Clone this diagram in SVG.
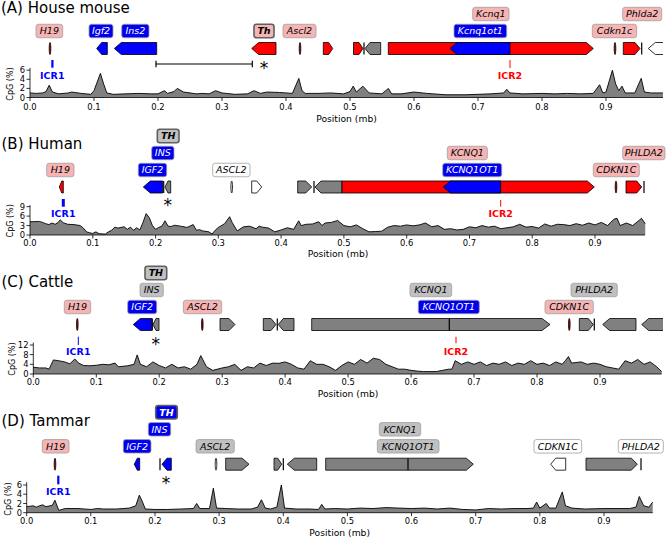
<svg xmlns="http://www.w3.org/2000/svg" width="667" height="537" viewBox="0 0 667 537">
<style>
text{font-family:'DejaVu Sans','Liberation Sans',sans-serif;fill:#000}
.ttl{font-size:15px}
.tk{font-size:8.4px}
.tx{text-anchor:middle}
.ty{text-anchor:end}
.xl{font-size:9.2px;text-anchor:middle}
.yl{font-size:8px;text-anchor:middle}
.cpg{fill:#808080;stroke:none}
.cpgl{fill:none;stroke:#000;stroke-width:0.9;vector-effect:non-scaling-stroke;stroke-linejoin:round}
.ax{stroke:#000;stroke-width:0.8;fill:none}
.lb rect{stroke:#a0a0a0;stroke-width:0.8}
.lb text{font-style:italic;font-size:9.5px;text-anchor:middle}
.lb.bl text{fill:#fff}
.pk rect{fill:#f7b4b4}
.bl rect{fill:#0000ee}
.gy rect{fill:#c0c0c0}
.wh rect{fill:#fff}
.bd rect{stroke:#606060;stroke-width:1.6}
.bd text{font-weight:bold}
.gene polygon,.gene ellipse{stroke:#000;stroke-width:0.8}
.r{fill:#ff0000}.b{fill:#0000ff}.g{fill:#808080}.w{fill:#fff}
.mk{fill:#b00000}
.sep{stroke:#000;stroke-width:1.2}
.icr{font-size:9.5px;font-weight:bold;text-anchor:middle}
.ast{font-size:17px;text-anchor:middle}
</style>
<defs>
<clipPath id="clipA"><rect x="0" y="0" width="663" height="537"/></clipPath>
</defs>

<!-- ================= Panel A ================= -->
<g id="panelA">
<text class="ttl" x="1" y="13">(A) House mouse</text>
<g id="cpgA" transform="translate(30,97.5) scale(640,-4.55)">
<polygon class="cpg" points="0,0 0,1.0 0.01,0.9 0.02,1.0 0.025,1.3 0.03,2.7 0.035,1.2 0.045,0.8 0.06,1.0 0.065,1.2 0.08,0.9 0.095,0.7 0.1,1.5 0.11,5.3 0.115,3.0 0.12,1.0 0.13,0.7 0.15,0.8 0.17,0.9 0.19,0.8 0.2,0.8 0.21,1.5 0.215,0.9 0.225,1.3 0.23,2.0 0.24,1.2 0.26,0.8 0.27,0.9 0.28,0.8 0.29,1.5 0.3,1.0 0.32,0.7 0.34,0.8 0.35,1.5 0.36,0.9 0.37,1.2 0.39,1.1 0.41,0.9 0.42,4.2 0.425,1.5 0.43,0.9 0.45,0.9 0.47,1.0 0.49,0.8 0.5,1.3 0.505,2.5 0.51,1.2 0.52,2.5 0.53,1.0 0.55,0.8 0.56,2.0 0.565,0.8 0.58,0.8 0.6,1.2 0.62,0.9 0.65,0.6 0.68,0.6 0.7,0.7 0.72,0.8 0.74,1.0 0.745,1.8 0.75,1.0 0.77,0.8 0.8,0.9 0.82,0.8 0.84,0.9 0.86,0.8 0.88,0.9 0.89,2.8 0.895,1.0 0.9,1.2 0.91,6.0 0.915,3.0 0.92,1.5 0.925,2.5 0.93,1.0 0.945,1.0 0.955,4.2 0.96,1.2 0.97,1.0 0.989,1.0 0.989,0"/>
<polyline class="cpgl" points="0,1.0 0.01,0.9 0.02,1.0 0.025,1.3 0.03,2.7 0.035,1.2 0.045,0.8 0.06,1.0 0.065,1.2 0.08,0.9 0.095,0.7 0.1,1.5 0.11,5.3 0.115,3.0 0.12,1.0 0.13,0.7 0.15,0.8 0.17,0.9 0.19,0.8 0.2,0.8 0.21,1.5 0.215,0.9 0.225,1.3 0.23,2.0 0.24,1.2 0.26,0.8 0.27,0.9 0.28,0.8 0.29,1.5 0.3,1.0 0.32,0.7 0.34,0.8 0.35,1.5 0.36,0.9 0.37,1.2 0.39,1.1 0.41,0.9 0.42,4.2 0.425,1.5 0.43,0.9 0.45,0.9 0.47,1.0 0.49,0.8 0.5,1.3 0.505,2.5 0.51,1.2 0.52,2.5 0.53,1.0 0.55,0.8 0.56,2.0 0.565,0.8 0.58,0.8 0.6,1.2 0.62,0.9 0.65,0.6 0.68,0.6 0.7,0.7 0.72,0.8 0.74,1.0 0.745,1.8 0.75,1.0 0.77,0.8 0.8,0.9 0.82,0.8 0.84,0.9 0.86,0.8 0.88,0.9 0.89,2.8 0.895,1.0 0.9,1.2 0.91,6.0 0.915,3.0 0.92,1.5 0.925,2.5 0.93,1.0 0.945,1.0 0.955,4.2 0.96,1.2 0.97,1.0 0.989,1.0"/>
</g>
<path class="ax" d="M30,67.9V97.5H663 M30,97.5v3.5 M94,97.5v3.5 M158,97.5v3.5 M222,97.5v3.5 M286,97.5v3.5 M350,97.5v3.5 M414,97.5v3.5 M478,97.5v3.5 M542,97.5v3.5 M606,97.5v3.5 M26.5,97.5H30 M26.5,88.4H30 M26.5,79.3H30 M26.5,70.2H30"/>
<g class="tk tx">
<text x="30" y="110.3">0.0</text><text x="94" y="110.3">0.1</text><text x="158" y="110.3">0.2</text><text x="222" y="110.3">0.3</text><text x="286" y="110.3">0.4</text><text x="350" y="110.3">0.5</text><text x="414" y="110.3">0.6</text><text x="478" y="110.3">0.7</text><text x="542" y="110.3">0.8</text><text x="606" y="110.3">0.9</text>
</g>
<g class="tk ty">
<text x="25" y="100.5">0</text><text x="25" y="91.4">2</text><text x="25" y="82.3">4</text><text x="25" y="73.2">6</text>
</g>
<text class="xl" x="346.5" y="121.5">Position (mb)</text>
<text class="yl" transform="translate(12.5,84) rotate(-90)">CpG (%)</text>

<g id="genesA" class="gene" clip-path="url(#clipA)">
<ellipse class="mk" cx="50" cy="48.5" rx="0.8" ry="6"/>
<polygon class="b" points="96.7,48.5 101.7,42.5 107.3,42.5 107.3,54.5 101.7,54.5"/>
<polygon class="b" points="114.3,48.5 121.3,42.5 156.7,42.5 156.7,54.5 121.3,54.5"/>
<polygon class="r" points="251.7,48.5 258.7,42.5 276,42.5 276,54.5 258.7,54.5"/>
<ellipse class="mk" cx="300" cy="48.5" rx="0.8" ry="6"/>
<polygon class="r" points="323.3,42.5 328.7,42.5 332.7,48.5 328.7,54.5 323.3,54.5"/>
<polygon class="r" points="353.5,42.5 359,42.5 363,48.5 359,54.5 353.5,54.5"/>
<line class="sep" x1="364" y1="42.5" x2="364" y2="54.5"/>
<polygon class="g" points="365,48.5 370,42.5 380.7,42.5 380.7,54.5 370,54.5"/>
<polygon class="r" points="388.3,42.5 586.3,42.5 593.3,48.5 586.3,54.5 388.3,54.5"/>
<polygon class="b" points="450,48.5 457,42.5 510,42.5 510,54.5 457,54.5"/>
<ellipse class="mk" cx="615" cy="48.5" rx="0.8" ry="6"/>
<polygon class="r" points="623.3,42.5 635,42.5 640,48.5 635,54.5 623.3,54.5"/>
<line class="sep" x1="641.7" y1="42.5" x2="641.7" y2="54.5"/>
<polygon class="w" points="648.3,48.5 655.3,42.5 670,42.5 670,54.5 655.3,54.5"/>
</g>

<g id="lblA-H19" class="lb pk"><rect x="36" y="24.25" width="26.7" height="13.5" rx="2.5"/><text x="49.35" y="34.4">H19</text></g>
<g id="lblA-Igf2" class="lb bl"><rect x="89" y="24.25" width="24" height="13.5" rx="2.5"/><text x="101" y="34.4">Igf2</text></g>
<g id="lblA-Ins2" class="lb bl"><rect x="121.7" y="24.25" width="27.3" height="13.5" rx="2.5"/><text x="135.35" y="34.4">Ins2</text></g>
<g id="lblA-Th" class="lb pk bd"><rect x="254" y="24.25" width="20" height="13.5" rx="2.5"/><text x="264" y="34.4">Th</text></g>
<g id="lblA-Ascl2" class="lb pk"><rect x="283" y="24.25" width="33" height="13.5" rx="2.5"/><text x="299.5" y="34.4">Ascl2</text></g>
<g id="lblA-Kcnq1ot1" class="lb bl"><rect x="454" y="24.25" width="52.7" height="13.5" rx="2.5"/><text x="480.35" y="34.4">Kcnq1ot1</text></g>
<g id="lblA-Cdkn1c" class="lb pk"><rect x="592.3" y="24.25" width="44.4" height="13.5" rx="2.5"/><text x="614.5" y="34.4">Cdkn1c</text></g>
<g id="lblA-Kcnq1" class="lb pk"><rect x="472.7" y="7.25" width="36.3" height="13.5" rx="2.5"/><text x="490.85" y="17.4">Kcnq1</text></g>
<g id="lblA-Phlda2" class="lb pk"><rect x="622.7" y="7.25" width="39" height="13.5" rx="2.5"/><text x="642.2" y="17.4">Phlda2</text></g>
</g>

<!-- ================= Panel B ================= -->
<g id="panelB">
<text class="ttl" x="1.5" y="148.5">(B) Human</text>
<g id="cpgB" transform="translate(30,235) scale(627.8,-3.15)">
<polygon class="cpg" points="0,0 0,4.2 0.015,4.3 0.02,4.0 0.025,3.6 0.03,3.3 0.035,3.8 0.04,3.4 0.045,4.0 0.048,4.8 0.053,3.9 0.06,3.4 0.07,3.3 0.08,3.0 0.085,2.2 0.09,1.0 0.095,0.7 0.1,0.5 0.105,1.0 0.11,0.4 0.12,0.3 0.125,1.0 0.13,1.5 0.135,2.5 0.14,2.2 0.15,2.6 0.155,1.8 0.16,2.5 0.165,1.5 0.17,2.3 0.175,1.6 0.18,4.0 0.185,6.8 0.19,5.5 0.195,3.0 0.2,1.8 0.205,2.4 0.21,2.8 0.215,4.5 0.22,2.8 0.225,2.7 0.23,3.1 0.24,2.8 0.25,2.4 0.26,3.3 0.265,1.5 0.27,1.7 0.275,1.3 0.285,1.0 0.29,0.3 0.295,1.5 0.3,2.4 0.31,3.6 0.318,5.8 0.322,4.0 0.33,1.3 0.34,2.6 0.35,2.8 0.36,2.0 0.365,2.8 0.37,2.5 0.38,2.2 0.39,1.0 0.4,1.6 0.41,2.3 0.42,1.8 0.428,4.5 0.432,3.0 0.44,3.4 0.45,3.5 0.46,4.2 0.465,3.0 0.47,3.8 0.48,4.0 0.49,4.6 0.5,3.0 0.51,2.6 0.52,3.2 0.53,2.0 0.54,1.0 0.55,1.1 0.56,1.2 0.57,2.5 0.58,3.0 0.59,2.8 0.6,3.2 0.61,2.9 0.62,3.2 0.63,3.8 0.64,2.6 0.65,3.0 0.66,1.8 0.67,2.0 0.68,1.6 0.69,1.8 0.7,2.6 0.71,2.3 0.72,3.0 0.73,2.5 0.74,2.8 0.75,2.0 0.76,2.3 0.77,2.6 0.78,3.4 0.79,2.5 0.8,2.7 0.81,2.2 0.82,3.5 0.83,2.8 0.84,3.4 0.85,3.3 0.86,3.0 0.87,3.6 0.88,3.1 0.89,3.8 0.9,3.2 0.91,4.0 0.92,3.0 0.93,5.0 0.935,5.3 0.94,3.0 0.95,3.8 0.96,3.0 0.97,4.6 0.974,5.3 0.98,3.6 0.98,0"/>
<polyline class="cpgl" points="0,4.2 0.015,4.3 0.02,4.0 0.025,3.6 0.03,3.3 0.035,3.8 0.04,3.4 0.045,4.0 0.048,4.8 0.053,3.9 0.06,3.4 0.07,3.3 0.08,3.0 0.085,2.2 0.09,1.0 0.095,0.7 0.1,0.5 0.105,1.0 0.11,0.4 0.12,0.3 0.125,1.0 0.13,1.5 0.135,2.5 0.14,2.2 0.15,2.6 0.155,1.8 0.16,2.5 0.165,1.5 0.17,2.3 0.175,1.6 0.18,4.0 0.185,6.8 0.19,5.5 0.195,3.0 0.2,1.8 0.205,2.4 0.21,2.8 0.215,4.5 0.22,2.8 0.225,2.7 0.23,3.1 0.24,2.8 0.25,2.4 0.26,3.3 0.265,1.5 0.27,1.7 0.275,1.3 0.285,1.0 0.29,0.3 0.295,1.5 0.3,2.4 0.31,3.6 0.318,5.8 0.322,4.0 0.33,1.3 0.34,2.6 0.35,2.8 0.36,2.0 0.365,2.8 0.37,2.5 0.38,2.2 0.39,1.0 0.4,1.6 0.41,2.3 0.42,1.8 0.428,4.5 0.432,3.0 0.44,3.4 0.45,3.5 0.46,4.2 0.465,3.0 0.47,3.8 0.48,4.0 0.49,4.6 0.5,3.0 0.51,2.6 0.52,3.2 0.53,2.0 0.54,1.0 0.55,1.1 0.56,1.2 0.57,2.5 0.58,3.0 0.59,2.8 0.6,3.2 0.61,2.9 0.62,3.2 0.63,3.8 0.64,2.6 0.65,3.0 0.66,1.8 0.67,2.0 0.68,1.6 0.69,1.8 0.7,2.6 0.71,2.3 0.72,3.0 0.73,2.5 0.74,2.8 0.75,2.0 0.76,2.3 0.77,2.6 0.78,3.4 0.79,2.5 0.8,2.7 0.81,2.2 0.82,3.5 0.83,2.8 0.84,3.4 0.85,3.3 0.86,3.0 0.87,3.6 0.88,3.1 0.89,3.8 0.9,3.2 0.91,4.0 0.92,3.0 0.93,5.0 0.935,5.3 0.94,3.0 0.95,3.8 0.96,3.0 0.97,4.6 0.974,5.3 0.98,3.6"/>
</g>
<path class="ax" d="M30,205.1V235H645 M30,235v3.5 M92.8,235v3.5 M155.6,235v3.5 M218.3,235v3.5 M281.1,235v3.5 M343.9,235v3.5 M406.7,235v3.5 M469.5,235v3.5 M532.2,235v3.5 M595,235v3.5 M26.5,235H30 M26.5,225.55H30 M26.5,216.1H30 M26.5,206.65H30"/>
<g class="tk tx">
<text x="30" y="246">0.0</text><text x="92.8" y="246">0.1</text><text x="155.6" y="246">0.2</text><text x="218.3" y="246">0.3</text><text x="281.1" y="246">0.4</text><text x="343.9" y="246">0.5</text><text x="406.7" y="246">0.6</text><text x="469.5" y="246">0.7</text><text x="532.2" y="246">0.8</text><text x="595" y="246">0.9</text>
</g>
<g class="tk ty">
<text x="25" y="238">0</text><text x="25" y="228.6">3</text><text x="25" y="219.1">6</text><text x="25" y="209.7">9</text>
</g>
<text class="xl" x="338" y="256.5">Position (mb)</text>
<text class="yl" transform="translate(12.5,220.8) rotate(-90)">CpG (%)</text>

<g id="genesB" class="gene">
<polygon class="r" points="59.3,187 61.8,181 63.3,181 63.3,193 61.8,193"/>
<polygon class="b" points="143.3,187 150.3,181 162.7,181 162.7,193 150.3,193"/>
<line class="sep" x1="163.7" y1="181" x2="163.7" y2="193"/>
<polygon class="g" points="165,187 168,181 170.7,181 170.7,193 168,193"/>
<ellipse class="w" cx="231.7" cy="187" rx="0.8" ry="6"/>
<polygon class="w" points="251.7,181 256.7,181 261.7,187 256.7,193 251.7,193"/>
<polygon class="g" points="297.7,181 305.7,181 311.7,187 305.7,193 297.7,193"/>
<line class="sep" x1="314" y1="181" x2="314" y2="193"/>
<polygon class="g" points="315,187 321,181 342,181 342,193 321,193"/>
<polygon class="r" points="342,181 587.3,181 594.3,187 587.3,193 342,193"/>
<polygon class="b" points="443.3,187 450.3,181 500.7,181 500.7,193 450.3,193"/>
<ellipse class="mk" cx="616" cy="187" rx="0.8" ry="6"/>
<polygon class="r" points="626,181 636.7,181 641.7,187 636.7,193 626,193"/>
<line class="sep" x1="644" y1="181" x2="644" y2="193"/>
</g>

<g id="lblB-TH" class="lb gy bd"><rect x="157.3" y="129.25" width="21.7" height="13.5" rx="2.5"/><text x="168.15" y="139.4">TH</text></g>
<g id="lblB-INS" class="lb bl"><rect x="151.7" y="146.25" width="22.3" height="13.5" rx="2.5"/><text x="162.85" y="156.4">INS</text></g>
<g id="lblB-IGF2" class="lb bl"><rect x="138.3" y="163.25" width="28.4" height="13.5" rx="2.5"/><text x="152.5" y="173.4">IGF2</text></g>
<g id="lblB-H19" class="lb pk"><rect x="46.7" y="163.25" width="27.3" height="13.5" rx="2.5"/><text x="60.35" y="173.4">H19</text></g>
<g id="lblB-ASCL2" class="lb wh"><rect x="212.7" y="163.25" width="37.3" height="13.5" rx="2.5"/><text x="231.35" y="173.4">ASCL2</text></g>
<g id="lblB-KCNQ1" class="lb pk"><rect x="447.3" y="146.25" width="40" height="13.5" rx="2.5"/><text x="467.3" y="156.4">KCNQ1</text></g>
<g id="lblB-KCNQ1OT1" class="lb bl"><rect x="442.7" y="163.25" width="59" height="13.5" rx="2.5"/><text x="472.2" y="173.4">KCNQ1OT1</text></g>
<g id="lblB-CDKN1C" class="lb pk"><rect x="593.3" y="163.25" width="46" height="13.5" rx="2.5"/><text x="616.3" y="173.4">CDKN1C</text></g>
<g id="lblB-PHLDA2" class="lb pk"><rect x="622.7" y="146.25" width="42.3" height="13.5" rx="2.5"/><text x="643.85" y="156.4">PHLDA2</text></g>
</g>

<!-- ================= Panel C ================= -->
<g id="panelC">
<text class="ttl" x="1.5" y="287">(C) Cattle</text>
<g id="cpgC" transform="translate(33.3,374) scale(629.6,-2.42)">
<polygon class="cpg" points="0,0 0,2.8 0.01,2.5 0.02,2.5 0.025,2.0 0.032,5.8 0.04,5.5 0.05,5.0 0.058,4.2 0.066,6.2 0.072,4.5 0.08,3.5 0.09,3.4 0.1,3.6 0.11,4.0 0.12,3.8 0.13,4.5 0.135,3.0 0.15,3.4 0.16,4.0 0.165,7.9 0.17,4.0 0.18,3.0 0.19,5.0 0.2,3.5 0.21,2.5 0.22,4.0 0.23,2.5 0.24,3.0 0.25,2.0 0.26,4.0 0.266,7.6 0.275,3.0 0.285,1.5 0.3,2.5 0.31,3.0 0.32,4.0 0.33,1.5 0.34,3.0 0.35,2.5 0.36,4.5 0.37,3.5 0.38,4.5 0.39,4.4 0.4,5.0 0.41,4.0 0.42,2.5 0.43,2.0 0.44,5.5 0.45,4.0 0.46,4.0 0.47,3.0 0.48,1.5 0.49,3.5 0.5,5.0 0.51,4.0 0.52,6.0 0.53,4.5 0.54,6.5 0.55,6.0 0.56,4.0 0.57,3.0 0.58,2.0 0.59,2.0 0.6,1.5 0.61,1.2 0.62,1.0 0.63,1.0 0.64,1.0 0.65,1.5 0.66,2.0 0.665,2.0 0.67,5.5 0.68,4.0 0.69,5.0 0.7,4.0 0.71,5.0 0.72,3.5 0.73,4.5 0.74,4.0 0.75,5.0 0.76,3.5 0.77,4.5 0.78,4.0 0.79,5.5 0.8,4.0 0.81,4.5 0.82,3.5 0.83,5.0 0.84,4.0 0.845,5.5 0.85,7.2 0.855,4.5 0.87,5.0 0.88,4.0 0.89,4.5 0.9,4.0 0.91,3.0 0.92,2.5 0.93,2.0 0.94,5.5 0.95,4.5 0.96,6.0 0.97,4.0 0.98,5.0 0.99,3.0 0.998,1.0 0.998,0"/>
<polyline class="cpgl" points="0,2.8 0.01,2.5 0.02,2.5 0.025,2.0 0.032,5.8 0.04,5.5 0.05,5.0 0.058,4.2 0.066,6.2 0.072,4.5 0.08,3.5 0.09,3.4 0.1,3.6 0.11,4.0 0.12,3.8 0.13,4.5 0.135,3.0 0.15,3.4 0.16,4.0 0.165,7.9 0.17,4.0 0.18,3.0 0.19,5.0 0.2,3.5 0.21,2.5 0.22,4.0 0.23,2.5 0.24,3.0 0.25,2.0 0.26,4.0 0.266,7.6 0.275,3.0 0.285,1.5 0.3,2.5 0.31,3.0 0.32,4.0 0.33,1.5 0.34,3.0 0.35,2.5 0.36,4.5 0.37,3.5 0.38,4.5 0.39,4.4 0.4,5.0 0.41,4.0 0.42,2.5 0.43,2.0 0.44,5.5 0.45,4.0 0.46,4.0 0.47,3.0 0.48,1.5 0.49,3.5 0.5,5.0 0.51,4.0 0.52,6.0 0.53,4.5 0.54,6.5 0.55,6.0 0.56,4.0 0.57,3.0 0.58,2.0 0.59,2.0 0.6,1.5 0.61,1.2 0.62,1.0 0.63,1.0 0.64,1.0 0.65,1.5 0.66,2.0 0.665,2.0 0.67,5.5 0.68,4.0 0.69,5.0 0.7,4.0 0.71,5.0 0.72,3.5 0.73,4.5 0.74,4.0 0.75,5.0 0.76,3.5 0.77,4.5 0.78,4.0 0.79,5.5 0.8,4.0 0.81,4.5 0.82,3.5 0.83,5.0 0.84,4.0 0.845,5.5 0.85,7.2 0.855,4.5 0.87,5.0 0.88,4.0 0.89,4.5 0.9,4.0 0.91,3.0 0.92,2.5 0.93,2.0 0.94,5.5 0.95,4.5 0.96,6.0 0.97,4.0 0.98,5.0 0.99,3.0 0.998,1.0"/>
</g>
<path class="ax" d="M33.3,342.5V374H661.7 M33.3,374v3.5 M96.3,374v3.5 M159.2,374v3.5 M222.2,374v3.5 M285.1,374v3.5 M348.1,374v3.5 M411.1,374v3.5 M474,374v3.5 M537,374v3.5 M600,374v3.5 M29.8,374H33.3 M29.8,364.3H33.3 M29.8,354.6H33.3 M29.8,345H33.3"/>
<g class="tk tx">
<text x="33.3" y="385.3">0.0</text><text x="96.3" y="385.3">0.1</text><text x="159.2" y="385.3">0.2</text><text x="222.2" y="385.3">0.3</text><text x="285.1" y="385.3">0.4</text><text x="348.1" y="385.3">0.5</text><text x="411.1" y="385.3">0.6</text><text x="474" y="385.3">0.7</text><text x="537" y="385.3">0.8</text><text x="600" y="385.3">0.9</text>
</g>
<g class="tk ty">
<text x="28.5" y="377">0</text><text x="28.5" y="367.3">4</text><text x="28.5" y="357.6">8</text><text x="28.5" y="348">12</text>
</g>
<text class="xl" x="348" y="396.8">Position (mb)</text>
<text class="yl" transform="translate(15,359) rotate(-90)">CpG (%)</text>

<g id="genesC" class="gene" clip-path="url(#clipA)">
<ellipse class="mk" cx="77.3" cy="324.5" rx="0.8" ry="6"/>
<polygon class="b" points="133.3,324.5 140.3,318.5 151.7,318.5 151.7,330.5 140.3,330.5"/>
<line class="sep" x1="152.3" y1="318.5" x2="152.3" y2="330.5"/>
<polygon class="g" points="153,324.5 156,318.5 159,318.5 159,330.5 156,330.5"/>
<ellipse class="mk" cx="202.3" cy="324.5" rx="0.8" ry="6"/>
<polygon class="g" points="220,318.5 229,318.5 235,324.5 229,330.5 220,330.5"/>
<polygon class="g" points="263.3,318.5 271,318.5 276,324.5 271,330.5 263.3,330.5"/>
<line class="sep" x1="277.3" y1="318.5" x2="277.3" y2="330.5"/>
<polygon class="g" points="278.3,324.5 283.3,318.5 294,318.5 294,330.5 283.3,330.5"/>
<polygon class="g" points="311.7,318.5 542,318.5 550,324.5 542,330.5 311.7,330.5"/>
<line class="sep" x1="449.3" y1="318.5" x2="449.3" y2="330.5"/>
<ellipse class="mk" cx="569.3" cy="324.5" rx="0.8" ry="6"/>
<polygon class="g" points="579.3,318.5 588.3,318.5 593.3,324.5 588.3,330.5 579.3,330.5"/>
<line class="sep" x1="594.3" y1="318.5" x2="594.3" y2="330.5"/>
<polygon class="g" points="602.7,324.5 609.7,318.5 636,318.5 636,330.5 609.7,330.5"/>
<polygon class="g" points="641.7,324.5 648.7,318.5 670,318.5 670,330.5 648.7,330.5"/>
</g>

<g id="lblC-TH" class="lb gy bd"><rect x="145" y="266.25" width="21.7" height="13.5" rx="2.5"/><text x="155.85" y="276.4">TH</text></g>
<g id="lblC-INS" class="lb gy"><rect x="140" y="283.25" width="23.3" height="13.5" rx="2.5"/><text x="151.65" y="293.4">INS</text></g>
<g id="lblC-IGF2" class="lb bl"><rect x="127.7" y="300.25" width="29" height="13.5" rx="2.5"/><text x="142.2" y="310.4">IGF2</text></g>
<g id="lblC-H19" class="lb pk"><rect x="64.3" y="300.25" width="26.4" height="13.5" rx="2.5"/><text x="77.5" y="310.4">H19</text></g>
<g id="lblC-ASCL2" class="lb pk"><rect x="183.3" y="300.25" width="38.4" height="13.5" rx="2.5"/><text x="202.5" y="310.4">ASCL2</text></g>
<g id="lblC-KCNQ1" class="lb gy"><rect x="410" y="283.25" width="41.7" height="13.5" rx="2.5"/><text x="430.85" y="293.4">KCNQ1</text></g>
<g id="lblC-KCNQ1OT1" class="lb bl"><rect x="418.3" y="300.25" width="61" height="13.5" rx="2.5"/><text x="448.8" y="310.4">KCNQ1OT1</text></g>
<g id="lblC-CDKN1C" class="lb pk"><rect x="545" y="300.25" width="48.3" height="13.5" rx="2.5"/><text x="569.15" y="310.4">CDKN1C</text></g>
<g id="lblC-PHLDA2" class="lb gy"><rect x="571" y="283.25" width="46.3" height="13.5" rx="2.5"/><text x="594.15" y="293.4">PHLDA2</text></g>
</g>

<!-- ================= Panel D ================= -->
<g id="panelD">
<text class="ttl" x="1.5" y="425.5">(D) Tammar</text>
<g id="cpgD" transform="translate(26.7,512.7) scale(641.4,-4.62)">
<polygon class="cpg" points="0,0 0,1.3 0.01,1.5 0.015,1.2 0.02,1.5 0.025,1.7 0.03,1.3 0.04,1.6 0.044,2.7 0.05,0.5 0.06,0.9 0.08,0.9 0.1,0.7 0.11,0.9 0.12,0.8 0.14,0.8 0.16,1.0 0.17,1.5 0.1756,3.8 0.18,2.5 0.185,0.8 0.2,0.7 0.22,0.7 0.24,0.8 0.26,0.9 0.265,2.0 0.27,0.9 0.285,0.9 0.291,5.3 0.296,1.0 0.31,0.9 0.33,0.8 0.35,0.8 0.36,1.2 0.366,2.8 0.372,1.0 0.38,0.8 0.39,1.2 0.397,6.0 0.402,1.0 0.42,0.8 0.44,0.8 0.455,0.7 0.46,1.8 0.465,0.8 0.48,0.9 0.5,0.8 0.52,1.0 0.54,0.9 0.56,1.1 0.58,1.0 0.6,0.9 0.62,1.0 0.64,0.8 0.66,1.0 0.68,0.7 0.7,0.6 0.72,0.9 0.74,0.8 0.76,0.9 0.78,0.9 0.79,1.0 0.795,2.3 0.8,1.0 0.81,2.0 0.815,1.0 0.825,1.0 0.835,4.5 0.84,1.5 0.85,1.0 0.87,0.8 0.9,0.9 0.94,0.9 0.95,1.2 0.955,3.5 0.962,1.5 0.97,1.2 0.976,2.3 0.976,0"/>
<polyline class="cpgl" points="0,1.3 0.01,1.5 0.015,1.2 0.02,1.5 0.025,1.7 0.03,1.3 0.04,1.6 0.044,2.7 0.05,0.5 0.06,0.9 0.08,0.9 0.1,0.7 0.11,0.9 0.12,0.8 0.14,0.8 0.16,1.0 0.17,1.5 0.1756,3.8 0.18,2.5 0.185,0.8 0.2,0.7 0.22,0.7 0.24,0.8 0.26,0.9 0.265,2.0 0.27,0.9 0.285,0.9 0.291,5.3 0.296,1.0 0.31,0.9 0.33,0.8 0.35,0.8 0.36,1.2 0.366,2.8 0.372,1.0 0.38,0.8 0.39,1.2 0.397,6.0 0.402,1.0 0.42,0.8 0.44,0.8 0.455,0.7 0.46,1.8 0.465,0.8 0.48,0.9 0.5,0.8 0.52,1.0 0.54,0.9 0.56,1.1 0.58,1.0 0.6,0.9 0.62,1.0 0.64,0.8 0.66,1.0 0.68,0.7 0.7,0.6 0.72,0.9 0.74,0.8 0.76,0.9 0.78,0.9 0.79,1.0 0.795,2.3 0.8,1.0 0.81,2.0 0.815,1.0 0.825,1.0 0.835,4.5 0.84,1.5 0.85,1.0 0.87,0.8 0.9,0.9 0.94,0.9 0.95,1.2 0.955,3.5 0.962,1.5 0.97,1.2 0.976,2.3"/>
</g>
<path class="ax" d="M26.7,482.2V512.7H652.7 M26.7,512.7v3.5 M90.8,512.7v3.5 M155,512.7v3.5 M219.1,512.7v3.5 M283.3,512.7v3.5 M347.4,512.7v3.5 M411.5,512.7v3.5 M475.7,512.7v3.5 M539.8,512.7v3.5 M604,512.7v3.5 M23.2,512.7H26.7 M23.2,503.5H26.7 M23.2,494.2H26.7 M23.2,485H26.7"/>
<g class="tk tx">
<text x="26.7" y="524.3">0.0</text><text x="90.8" y="524.3">0.1</text><text x="155" y="524.3">0.2</text><text x="219.1" y="524.3">0.3</text><text x="283.3" y="524.3">0.4</text><text x="347.4" y="524.3">0.5</text><text x="411.5" y="524.3">0.6</text><text x="475.7" y="524.3">0.7</text><text x="539.8" y="524.3">0.8</text><text x="604" y="524.3">0.9</text>
</g>
<g class="tk ty">
<text x="22" y="515.7">0</text><text x="22" y="506.5">2</text><text x="22" y="497.2">4</text><text x="22" y="488">6</text>
</g>
<text class="xl" x="339.7" y="535.5">Position (mb)</text>
<text class="yl" transform="translate(10.5,499) rotate(-90)">CpG (%)</text>

<g id="genesD" class="gene">
<ellipse class="mk" cx="55" cy="464.2" rx="0.8" ry="6"/>
<polygon class="b" points="134.3,464.2 137.3,458.2 139.7,458.2 139.7,470.2 137.3,470.2"/>
<line class="sep" x1="160" y1="458.2" x2="160" y2="470.2"/>
<polygon class="b" points="162,464.2 167,458.2 171.3,458.2 171.3,470.2 167,470.2"/>
<ellipse class="w" cx="216" cy="464.2" rx="0.8" ry="6"/>
<polygon class="g" points="225.7,458.2 242,458.2 249,464.2 242,470.2 225.7,470.2"/>
<polygon class="g" points="274,458.2 277.7,458.2 281.7,464.2 277.7,470.2 274,470.2"/>
<line class="sep" x1="283.3" y1="458.2" x2="283.3" y2="470.2"/>
<polygon class="g" points="287.3,464.2 294.3,458.2 316.7,458.2 316.7,470.2 294.3,470.2"/>
<polygon class="g" points="325.7,458.2 466.3,458.2 473.3,464.2 466.3,470.2 325.7,470.2"/>
<line class="sep" x1="408" y1="458.2" x2="408" y2="470.2"/>
<polygon class="w" points="550.7,464.2 555.7,458.2 565.7,458.2 565.7,470.2 555.7,470.2"/>
<polygon class="g" points="586,458.2 631.3,458.2 637.3,464.2 631.3,470.2 586,470.2"/>
<line class="sep" x1="641" y1="458.2" x2="641" y2="470.2"/>
</g>

<g id="lblD-TH" class="lb bl bd"><rect x="155.7" y="405.55" width="21.6" height="13.5" rx="2.5"/><text x="166.5" y="415.7">TH</text></g>
<g id="lblD-INS" class="lb bl"><rect x="148.3" y="422.55" width="22.4" height="13.5" rx="2.5"/><text x="159.5" y="432.7">INS</text></g>
<g id="lblD-IGF2" class="lb bl"><rect x="123.3" y="439.55" width="27.7" height="13.5" rx="2.5"/><text x="137.15" y="449.7">IGF2</text></g>
<g id="lblD-H19" class="lb pk"><rect x="42.3" y="439.55" width="26.7" height="13.5" rx="2.5"/><text x="55.65" y="449.7">H19</text></g>
<g id="lblD-ASCL2" class="lb gy"><rect x="196" y="439.55" width="38.3" height="13.5" rx="2.5"/><text x="215.15" y="449.7">ASCL2</text></g>
<g id="lblD-KCNQ1" class="lb gy"><rect x="379.3" y="422.55" width="41.4" height="13.5" rx="2.5"/><text x="400" y="432.7">KCNQ1</text></g>
<g id="lblD-KCNQ1OT1" class="lb gy"><rect x="377.3" y="439.55" width="61.7" height="13.5" rx="2.5"/><text x="408.15" y="449.7">KCNQ1OT1</text></g>
<g id="lblD-CDKN1C" class="lb wh"><rect x="534" y="439.55" width="47.7" height="13.5" rx="2.5"/><text x="557.85" y="449.7">CDKN1C</text></g>
<g id="lblD-PHLDA2" class="lb wh"><rect x="618.3" y="439.55" width="45" height="13.5" rx="2.5"/><text x="640.8" y="449.7">PHLDA2</text></g>
</g>

<!-- ================= Markers (ICRs, scale bar, asterisks) ================= -->
<g id="connectors">
<rect x="51.3" y="60" width="2.2" height="7.7" fill="#0000ff"/>
<text class="icr" x="52.3" y="79.4" style="fill:#0000ff">ICR1</text>
<line x1="510" y1="60" x2="510" y2="68" stroke="#ff0000" stroke-width="1"/>
<text class="icr" x="510" y="79.1" style="fill:#ff0000">ICR2</text>
<path d="M156,64H252.3 M156,60.7V67.3 M252.3,60.7V67.3" stroke="#000" stroke-width="1.2" fill="none"/>
<text class="ast" x="264" y="73.5">*</text>

<rect x="61.8" y="199" width="3" height="7.7" fill="#0000ff"/>
<text class="icr" x="63.3" y="216.7" style="fill:#0000ff">ICR1</text>
<line x1="500.7" y1="200" x2="500.7" y2="206.7" stroke="#ff0000" stroke-width="1"/>
<text class="icr" x="500.7" y="216.7" style="fill:#ff0000">ICR2</text>
<text class="ast" x="167.7" y="211.4">*</text>

<line x1="78.3" y1="336.7" x2="78.3" y2="345" stroke="#0000ff" stroke-width="1"/>
<text class="icr" x="78.3" y="355.1" style="fill:#0000ff">ICR1</text>
<line x1="456" y1="336.7" x2="456" y2="343.3" stroke="#ff0000" stroke-width="1"/>
<text class="icr" x="456" y="355.1" style="fill:#ff0000">ICR2</text>
<text class="ast" x="155.7" y="349.7">*</text>

<rect x="57.2" y="475.7" width="2.2" height="8.6" fill="#0000ff"/>
<text class="icr" x="58.3" y="495.1" style="fill:#0000ff">ICR1</text>
<text class="ast" x="166" y="489.2">*</text>
</g>
</svg>
